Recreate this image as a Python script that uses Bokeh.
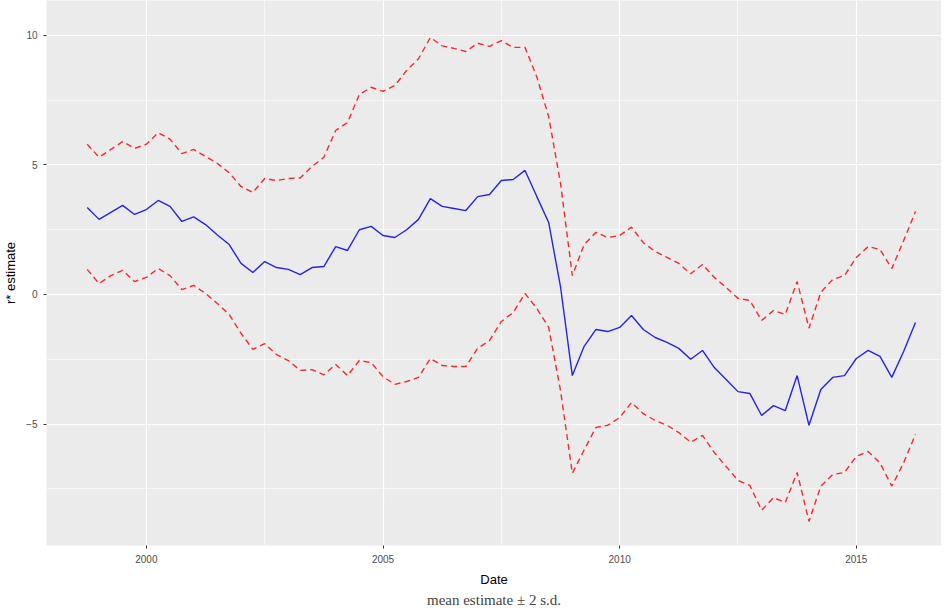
import numpy as np
from bokeh.plotting import figure
from bokeh.models import FixedTicker, Range1d, Title
from bokeh.embed import file_html
from bokeh.resources import INLINE

start_year = 1998.75
mean_est = [3.36, 2.9, 3.17, 3.44, 3.09, 3.28, 3.63, 3.4, 2.82, 3.0, 2.7, 2.3, 1.93, 1.2, 0.85,
            1.27, 1.04, 0.97, 0.77, 1.04, 1.08, 1.85, 1.7, 2.5, 2.63, 2.28, 2.2, 2.5, 2.9, 3.7,
            3.4, 3.32, 3.24, 3.78, 3.86, 4.4, 4.44, 4.79, 3.78, 2.78, 0.3, -3.13, -2.0, -1.35,
            -1.43, -1.27, -0.81, -1.35, -1.66, -1.85, -2.08, -2.5, -2.16, -2.82, -3.28, -3.75,
            -3.82, -4.67, -4.29, -4.48, -3.13, -5.05, -3.67, -3.2, -3.13, -2.47, -2.16, -2.39,
            -3.2, -2.2, -1.08]
upper = [5.8, 5.3, 5.6, 5.9, 5.64, 5.8, 6.25, 6.0, 5.44, 5.6, 5.33, 5.06, 4.7, 4.17, 3.94,
         4.48, 4.4, 4.48, 4.5, 4.94, 5.3, 6.33, 6.64, 7.72, 8.0, 7.84, 8.07, 8.65, 9.1, 9.92,
         9.6, 9.5, 9.38, 9.7, 9.58, 9.8, 9.54, 9.54, 8.4, 6.87, 4.3, 0.73, 1.93, 2.4, 2.2,
         2.28, 2.6, 2.0, 1.66, 1.43, 1.2, 0.8, 1.16, 0.66, 0.27, -0.15, -0.23, -1.0, -0.62,
         -0.77, 0.5, -1.3, 0.08, 0.58, 0.73, 1.43, 1.85, 1.74, 1.0, 2.08, 3.2]
lower = [0.97, 0.42, 0.73, 0.93, 0.5, 0.66, 1.0, 0.73, 0.19, 0.35, 0.04, -0.35, -0.77, -1.5,
         -2.12, -1.9, -2.32, -2.55, -2.93, -2.9, -3.1, -2.7, -3.13, -2.55, -2.63, -3.17, -3.47,
         -3.36, -3.2, -2.47, -2.74, -2.78, -2.78, -2.08, -1.78, -1.04, -0.7, 0.04, -0.54,
         -1.27, -3.7, -6.9, -6.0, -5.13, -5.05, -4.75, -4.17, -4.6, -4.86, -5.05, -5.33, -5.7,
         -5.44, -6.1, -6.64, -7.18, -7.37, -8.33, -7.84, -8.03, -6.87, -8.76, -7.4, -6.95,
         -6.87, -6.25, -6.06, -6.5, -7.4, -6.5, -5.4]

dates = start_year + 0.25 * np.arange(len(mean_est))

p = figure(width=941, height=607, output_backend="svg", toolbar_location=None,
           x_range=Range1d(1997.89, 2016.8), y_range=Range1d(-9.69, 11.35),
           background_fill_color="#EBEBEB", border_fill_color="white",
           min_border_left=44, min_border_right=0, min_border_top=0, min_border_bottom=0)

p.line(dates, upper, color="#F8292A", line_width=1.4, line_dash="6 4")
p.line(dates, lower, color="#F8292A", line_width=1.4, line_dash="6 4")
p.line(dates, mean_est, color="#2424E8", line_width=1.4)

p.xaxis.ticker = FixedTicker(ticks=[2000, 2005, 2010, 2015],
                             minor_ticks=[1997.5, 2002.5, 2007.5, 2012.5, 2017.5])
p.yaxis.ticker = FixedTicker(ticks=[-5, 0, 5, 10], minor_ticks=[-7.5, -2.5, 2.5, 7.5])
for g in (p.xgrid, p.ygrid):
    g.grid_line_color = "white"
    g.grid_line_width = 1.2
    g.minor_grid_line_color = "white"
    g.minor_grid_line_width = 0.6
for ax in (p.xaxis, p.yaxis):
    ax.axis_line_color = None
    ax.major_tick_line_color = "#333333"
    ax.major_tick_in = 0
    ax.major_tick_out = 3
    ax.minor_tick_line_color = None
    ax.major_label_text_font = "Liberation Sans"
    ax.major_label_text_font_size = "10px"
    ax.major_label_text_color = "#4D4D4D"
    ax.axis_label_text_font = "Liberation Sans"
    ax.axis_label_text_font_size = "13px"
    ax.axis_label_text_font_style = "normal"
    ax.axis_label_text_color = "black"
p.xaxis.axis_label = "Date"
p.xaxis.axis_label_standoff = 6
p.yaxis.axis_label = "r* estimate"
p.outline_line_color = None

p.add_layout(Title(text="mean estimate \u00b1 2 s.d.", align="center",
                   text_font="Liberation Serif", text_font_size="15px",
                   text_font_style="normal", standoff=0), "below")

open("out.html", "w").write(file_html(p, INLINE))
